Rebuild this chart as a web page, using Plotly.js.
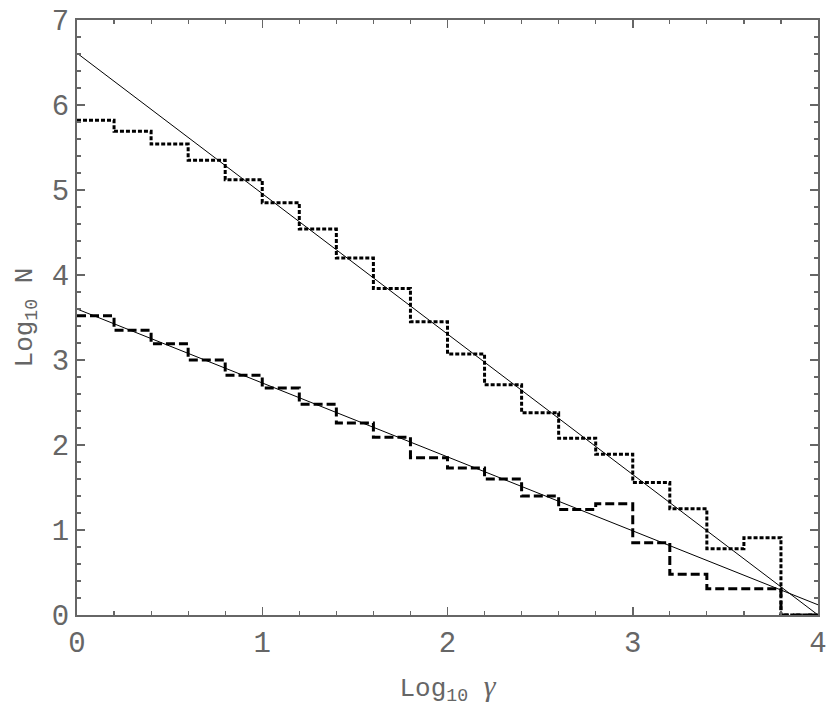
<!DOCTYPE html>
<html>
<head>
<meta charset="utf-8">
<script src="https://cdn.plot.ly/plotly-3.0.1.min.js"></script>
<style>html,body{margin:0;padding:0;background:#fff;}#chart{width:830px;height:712px;}</style>
</head>
<body>
<div id="chart"></div>
<script>
// bin edges of log10 gamma (width 0.2)
const binEdges = [0,0.2,0.4,0.6,0.8,1.0,1.2,1.4,1.6,1.8,2.0,2.2,2.4,2.6,2.8,3.0,3.2,3.4,3.6,3.8,4.0];
// dotted histogram (upper)
const dottedCounts = [5.82,5.69,5.54,5.35,5.12,4.85,4.54,4.20,3.84,3.45,3.07,2.71,2.38,2.08,1.89,1.56,1.25,0.78,0.91,0.0];
// dashed histogram (lower)
const dashedCounts = [3.52,3.35,3.19,3.00,2.82,2.67,2.48,2.26,2.09,1.85,1.73,1.60,1.40,1.24,1.31,0.85,0.48,0.31,0.31,0.0];
// fitted straight lines
const fitX = [0,4];
const fitUpper = [6.61,0.0];
const fitLower = [3.60,0.12];

const stepY = a => a.concat([a[a.length-1]]);

const traces = [
  {x: binEdges, y: stepY(dottedCounts), mode:'lines', line:{shape:'hv', color:'#000', width:3, dash:'4px,2px'}},
  {x: binEdges, y: stepY(dashedCounts), mode:'lines', line:{shape:'hv', color:'#000', width:3, dash:'9px,4px'}},
  {x: fitX, y: fitUpper, mode:'lines', line:{color:'#000', width:1}},
  {x: fitX, y: fitLower, mode:'lines', line:{color:'#000', width:1}}
];

const fontFam = '"Liberation Mono", "Courier New", monospace';
const axisCommon = {
  showgrid:false, zeroline:false, showline:true, linecolor:'#666', linewidth:2,
  mirror:'ticks', ticks:'inside', ticklen:8, tickwidth:1.5, tickcolor:'#666',
  tickfont:{family:fontFam, size:29, color:'#666'},
  minor:{ticks:'inside', ticklen:4, tickwidth:1.2, tickcolor:'#666'}
};

const layout = {
  width:830, height:712,
  margin:{l:77, r:12, t:20, b:97},
  paper_bgcolor:'#fff', plot_bgcolor:'#fff',
  showlegend:false,
  xaxis: Object.assign({}, axisCommon, {
    range:[0,4], dtick:1, tick0:0,
    minor:Object.assign({}, axisCommon.minor, {dtick:0.2}),
    title:{text:'Log<sub>10</sub> <span style="font-family:Liberation Serif;font-size:30px"><i>γ</i></span>', font:{family:fontFam, size:26, color:'#666'}, standoff:18}
  }),
  yaxis: Object.assign({}, axisCommon, {
    range:[0,7], dtick:1, tick0:0,
    minor:Object.assign({}, axisCommon.minor, {dtick:0.2}),
    title:{text:'Log<sub>10</sub> N', font:{family:fontFam, size:26, color:'#666'}, standoff:12}
  })
};

Plotly.newPlot('chart', traces, layout, {displayModeBar:false, staticPlot:true});
</script>
</body>
</html>
